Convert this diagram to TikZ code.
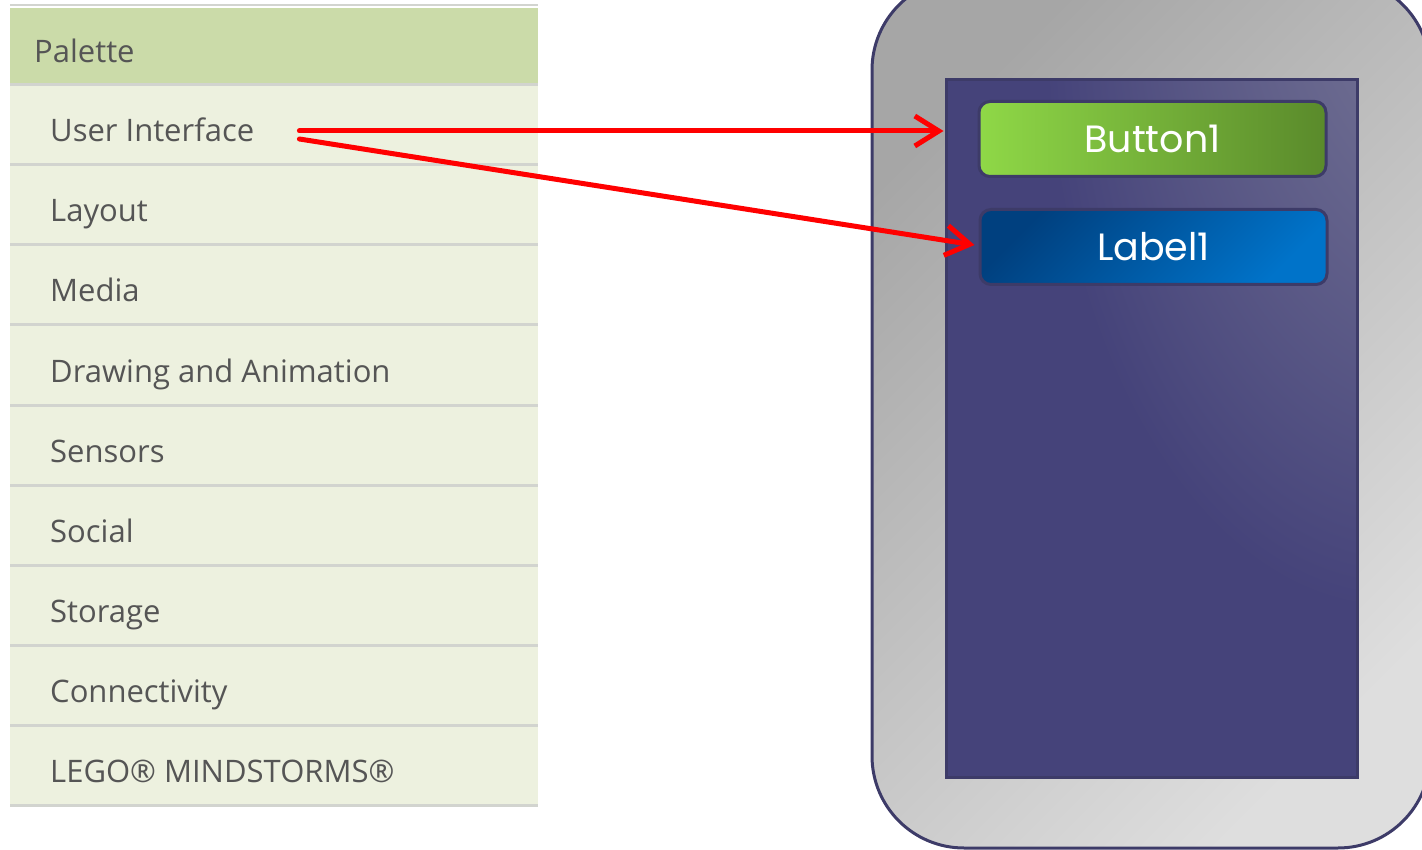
\documentclass[tikz,border=0pt]{standalone}
\usepackage{fontspec}
\setmainfont{Open Sans}
\newfontfamily\geofont{Poppins}
\usepackage{xcolor}
\usetikzlibrary{arrows.meta,positioning,shadings}
\definecolor{palhead}{HTML}{CBDBA9}
\definecolor{palrow}{HTML}{EDF1DF}
\definecolor{palsep}{HTML}{D2D4CF}
\definecolor{paltext}{HTML}{555555}
\definecolor{frame}{HTML}{3D3B68}
\definecolor{phonedark}{HTML}{A6A6A6}
\definecolor{phonelight}{HTML}{DEDEDE}
\definecolor{scrbase}{HTML}{45437A}
\definecolor{scrglow}{HTML}{9090A4}
\definecolor{btnl}{HTML}{8FD847}
\definecolor{btnr}{HTML}{5A8A2B}
\definecolor{lbldark}{HTML}{00407F}
\definecolor{lbllight}{HTML}{0073C9}
\pgfdeclareradialshading{screenglow}{\pgfpoint{50bp}{50bp}}{color(0bp)=(scrglow); color(42bp)=(scrbase); color(100bp)=(scrbase)}

\begin{document}
\begin{tikzpicture}[
  x=1pt, y=-1pt,
  row/.style={fill=palrow, minimum width=528pt, minimum height=80pt, inner sep=0pt, outer sep=0pt},
  item/.style={anchor=base west, inner sep=0pt, text=paltext, font=\fontsize{31}{36}\selectfont},
  sep/.style={draw=palsep, line width=3pt},
  widget/.style={draw=frame, line width=3pt, rounded corners=11pt, minimum width=347pt, minimum height=75pt, text=white, font=\geofont\fontsize{38}{42}\selectfont},
  arr/.style={-{Straight Barb[length=24pt,width=30pt]}, red, line width=5pt, line cap=round}
]
\useasboundingbox (0,0) rectangle (1422,850);

% palette
\draw[line width=1.5pt, palsep] (10,5) -- (538,5);
\node[row, fill=palhead, minimum height=77pt] (head) at (274,46.5) {};
\node[item] (pal) at ([xshift=24pt,yshift=-16pt]head.west) {Palette};
\foreach \txt [count=\i] in {User Interface, Layout, Media, Drawing and Animation, Sensors, Social, Storage, Connectivity, LEGO® MINDSTORMS®} {
  \node[row] (r\i) at (274,45+80*\i) {};
  \draw[sep] (r\i.north west) -- (r\i.north east);
  \node[item] (t\i) at ([xshift=40pt,yshift=-17pt]r\i.west) {\txt};
}
\draw[sep] (r9.south west) -- (r9.south east);

% phone
\node[draw=frame, line width=3pt, rounded corners=92pt, minimum width=558pt, minimum height=870pt,
  top color=phonedark, bottom color=phonelight, shading angle=45] (phone) at (1151,413) {};
\node[draw=frame, line width=3pt, minimum width=411pt, minimum height=697pt, shading=screenglow] (screen) at (1151.5,428.5) {};
\node[widget, left color=btnl, right color=btnr] (btn) at (1152.5,139) {Button1};
\node[widget, top color=lbldark, bottom color=lbllight, shading angle=45] (lbl) at (1153.5,247) {Label1};

\draw[arr] ([xshift=45pt,yshift=11pt]t1.base east) -- ([xshift=-34pt,yshift=8pt]btn.west);
\draw[arr] ([xshift=45pt,yshift=3pt]t1.base east) -- ([xshift=-4pt,yshift=2pt]lbl.west);
\end{tikzpicture}
\end{document}
